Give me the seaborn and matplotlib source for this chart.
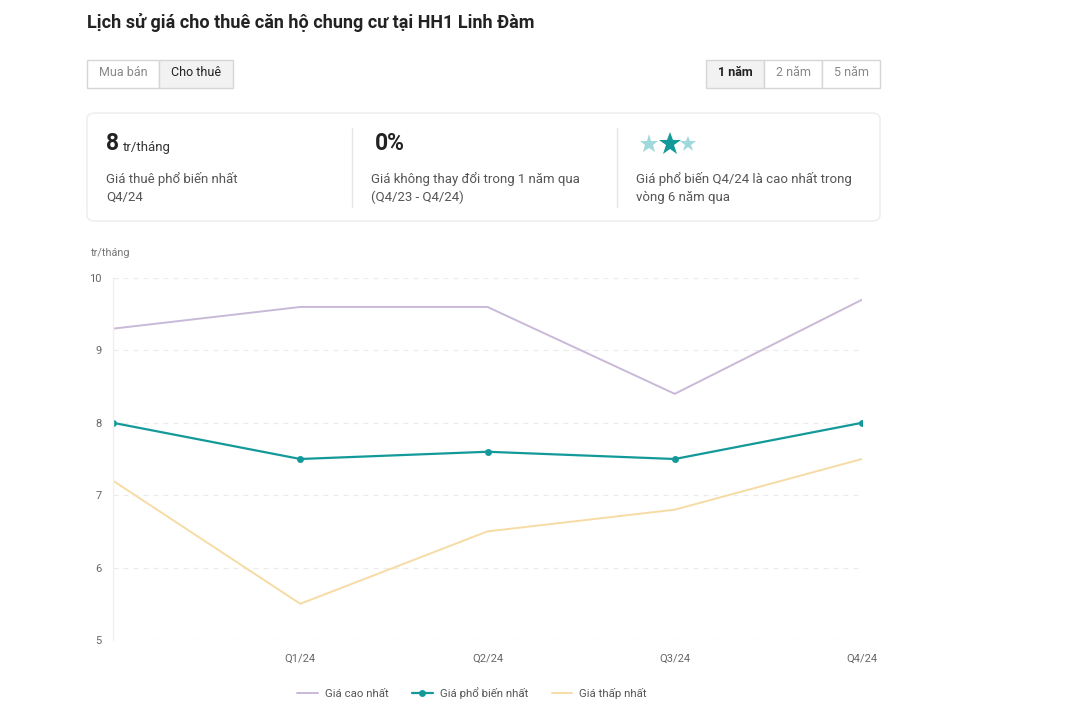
import matplotlib
matplotlib.use("Agg")
import matplotlib.pyplot as plt
import seaborn as sns
import pandas as pd
from matplotlib.patches import FancyBboxPatch, Rectangle
from matplotlib.lines import Line2D

sns.set_theme(style="white")
plt.rcParams['font.family'] = ['Roboto', 'DejaVu Sans']

quarters = ["Q4/23", "Q1/24", "Q2/24", "Q3/24", "Q4/24"]
tick_labels = ["", "Q1/24", "Q2/24", "Q3/24", "Q4/24"]
gia_cao = [9.3, 9.6, 9.6, 8.4, 9.7]
gia_pho_bien = [8.0, 7.5, 7.6, 7.5, 8.0]
gia_thap = [7.2, 5.5, 6.5, 6.8, 7.5]
series_names = ["Giá cao nhất", "Giá phổ biến nhất", "Giá thấp nhất"]
colors = ["#c9b9d8", "#14999a", "#f6dca4"]

W, H = 1082, 724
fig = plt.figure(figsize=(W / 100, H / 100), dpi=100)
fig.patch.set_facecolor("white")

def fx(x):
    return x / W

def fy(y):
    return 1 - y / H

# Title
fig.text(fx(87), fy(23), "Lịch sử giá cho thuê căn hộ chung cư tại HH1 Linh Đàm",
         fontsize=13, fontweight="bold", color="#222222", va="center", ha="left")

border = "#d6d6d6"

def box(x0, y0, x1, y1, fc="white", ec=border, lw=1.0):
    r = Rectangle((fx(x0), fy(y1)), fx(x1) - fx(x0), fy(y0) - fy(y1),
                  transform=fig.transFigure, facecolor=fc, edgecolor=ec, lw=lw)
    fig.patches.append(r)

# Left buttons
box(87, 60, 159, 88)
box(159, 60, 233, 88, fc="#f2f2f2")
fig.text(fx(123), fy(73), "Mua bán", fontsize=9, color="#888888", ha="center", va="center")
fig.text(fx(196), fy(73), "Cho thuê", fontsize=9, color="#222222", ha="center", va="center")

# Right buttons
box(706, 60, 764, 88, fc="#f2f2f2")
box(764, 60, 822, 88)
box(822, 60, 880, 88)
fig.text(fx(735), fy(73), "1 năm", fontsize=9, color="#222222", ha="center", va="center", fontweight="bold")
fig.text(fx(793), fy(73), "2 năm", fontsize=9, color="#888888", ha="center", va="center")
fig.text(fx(851), fy(73), "5 năm", fontsize=9, color="#888888", ha="center", va="center")

# Card
card = FancyBboxPatch((fx(87), fy(221)), fx(880) - fx(87), fy(113) - fy(221),
                      boxstyle="round,pad=0,rounding_size=0.008",
                      transform=fig.transFigure, facecolor="white",
                      edgecolor="#ececec", lw=1.0)
fig.patches.append(card)
for xd in (352, 617):
    fig.lines.append(Line2D([fx(xd), fx(xd)], [fy(128), fy(207)],
                            transform=fig.transFigure, color="#e6e6e6", lw=1))

txtc = "#555555"
fs_card = 9.5
fig.text(fx(106), fy(143), "8", fontsize=16.5, fontweight="bold", color="#222222", va="center")
fig.text(fx(123), fy(147), "tr/tháng", fontsize=9.5, color="#333333", va="center")
fig.text(fx(106), fy(179), "Giá thuê phổ biến nhất", fontsize=fs_card, color=txtc, va="center")
fig.text(fx(106), fy(197), "Q4/24", fontsize=fs_card, color=txtc, va="center")

fig.text(fx(375), fy(143), "0%", fontsize=16.5, fontweight="bold", color="#222222", va="center")
fig.text(fx(371), fy(179), "Giá không thay đổi trong 1 năm qua", fontsize=fs_card, color=txtc, va="center")
fig.text(fx(371), fy(197), "(Q4/23 - Q4/24)", fontsize=fs_card, color=txtc, va="center")

for sx, ss, sc in ((649, 14, "#9fd9dc"), (670, 17, "#14999a"), (688, 12, "#9fd9dc")):
    fig.lines.append(Line2D([fx(sx)], [fy(144)], transform=fig.transFigure,
                            marker="*", markersize=ss, color=sc, markeredgewidth=0, linestyle="none"))
fig.text(fx(636), fy(179), "Giá phổ biến Q4/24 là cao nhất trong", fontsize=fs_card, color=txtc, va="center")
fig.text(fx(636), fy(197), "vòng 6 năm qua", fontsize=fs_card, color=txtc, va="center")

# Chart
ax = fig.add_axes([fx(113), fy(640), fx(862) - fx(113), fy(278) - fy(640)])
df = pd.DataFrame({
    "x": list(range(len(quarters))) * 3,
    "value": gia_cao + gia_pho_bien + gia_thap,
    "series": [series_names[0]] * 5 + [series_names[1]] * 5 + [series_names[2]] * 5,
})
for name, col in zip(series_names, colors):
    sub = df[df["series"] == name]
    if name == series_names[1]:
        sns.lineplot(data=sub, x="x", y="value", ax=ax, color=col, lw=1.6,
                     marker="o", markersize=5, markeredgewidth=0, legend=False)
    else:
        sns.lineplot(data=sub, x="x", y="value", ax=ax, color=col, lw=1.4, legend=False)

ax.set_xlim(0, 4)
ax.set_ylim(5, 10)
ax.set_xticks(range(5))
ax.set_xticklabels(tick_labels)
ax.set_yticks([5, 6, 7, 8, 9, 10])
ax.set_xlabel("")
ax.set_ylabel("")
ax.tick_params(axis="both", length=0, labelsize=8, labelcolor="#666666")
ax.tick_params(axis="x", pad=10)
ax.tick_params(axis="y", pad=8)
for yv in [5, 6, 7, 8, 9, 10]:
    ax.axhline(yv, color="#ebebeb", lw=0.9, ls=(0, (4, 4)), zorder=0)
for s in ["top", "right", "bottom"]:
    ax.spines[s].set_visible(False)
ax.spines["left"].set_color("#f0f0f0")
ax.spines["left"].set_linewidth(1)
ax.set_facecolor("white")

fig.text(fx(91), fy(253), "tr/tháng", fontsize=7.8, color="#777777", va="center")

# Legend
handles = [
    Line2D([], [], color=colors[0], lw=1.4),
    Line2D([], [], color=colors[1], lw=1.6, marker="o", markersize=5, markeredgewidth=0),
    Line2D([], [], color=colors[2], lw=1.4),
]
fig.legend(handles, series_names, loc="center", bbox_to_anchor=(fx(472), fy(693)),
           ncol=3, frameon=False, fontsize=8.2, labelcolor="#555555",
           handlelength=1.8, handletextpad=0.6, columnspacing=2.1)

fig.savefig("out.png", dpi=100, facecolor="white")
